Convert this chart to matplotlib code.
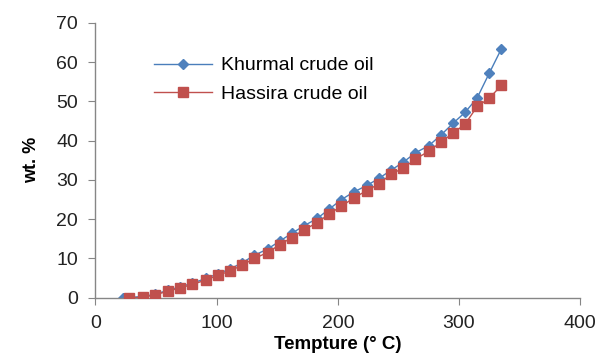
import matplotlib
matplotlib.use("Agg")
import matplotlib.pyplot as plt

plt.rcParams['font.family'] = ['Liberation Sans', 'DejaVu Sans']

hassira_x = [28, 39, 49, 60, 70, 80, 91, 101, 111, 121, 131, 142, 152, 162, 172, 183,
             193, 203, 213, 224, 234, 244, 254, 264, 275, 285, 295, 305, 315, 325, 335]
hassira_y = [0, 0.1, 0.7, 1.7, 2.5, 3.4, 4.5, 5.7, 6.8, 8.3, 10, 11.5, 13.5, 15.3, 17.3, 19.1,
             21.4, 23.3, 25.4, 27.3, 29, 31.5, 33, 35.3, 37.3, 39.6, 41.9, 44.2, 48.7, 50.8, 54.1]

khurmal_x = [23, 39, 49, 60, 70, 80, 91, 101, 111, 121, 131, 142, 152, 162, 172, 183,
             193, 203, 213, 224, 234, 244, 254, 264, 275, 285, 295, 305, 315, 325, 335]
khurmal_y = [0, 0.3, 0.9, 1.9, 2.8, 3.7, 4.9, 6.1, 7.3, 8.9, 10.8, 12.4, 14.4, 16.4, 18.3, 20.2,
             22.6, 25.0, 26.9, 28.6, 30.4, 32.5, 34.5, 36.9, 38.7, 41.4, 44.4, 47.2, 50.9, 57.2, 63.4]

x_ticks = [0, 100, 200, 300, 400]
y_ticks = [0, 10, 20, 30, 40, 50, 60, 70]

fig = plt.figure(figsize=(6.12, 3.57), dpi=100)
ax = fig.add_axes([0.156, 0.166, 0.792, 0.770])

ax.plot(khurmal_x, khurmal_y, color='#4A7EBB', lw=1.0, marker='D', ms=5,
        mfc='#4F81BD', mec='#4F81BD', label='Khurmal crude oil', zorder=2)
ax.plot(hassira_x, hassira_y, color='#C0504D', lw=1.0, marker='s', ms=6.5,
        mfc='#C0504D', mec='#C0504D', label='Hassira crude oil', zorder=3)

ax.set_xlim(0, 400)
ax.set_ylim(0, 70)
ax.set_xticks(x_ticks)
ax.set_yticks(y_ticks)
for s in ['top', 'right']:
    ax.spines[s].set_visible(False)
for s in ['left', 'bottom']:
    ax.spines[s].set_color('#868686')
    ax.spines[s].set_linewidth(1.0)
ax.tick_params(axis='both', direction='out', color='#868686', length=5,
               labelsize=14, labelcolor='#222222', pad=7.5)

ax.set_xlabel('Tempture (° C)', fontsize=13.5, fontweight='bold', labelpad=3)
ax.set_ylabel('wt. %', fontsize=13, fontweight='bold', labelpad=12)

leg = ax.legend(loc='upper left', bbox_to_anchor=(0.105, 0.905), frameon=False,
                fontsize=14, handlelength=3.0, handletextpad=0.45, labelspacing=0.55,
                borderaxespad=0)

fig.savefig('out.png', dpi=100)
